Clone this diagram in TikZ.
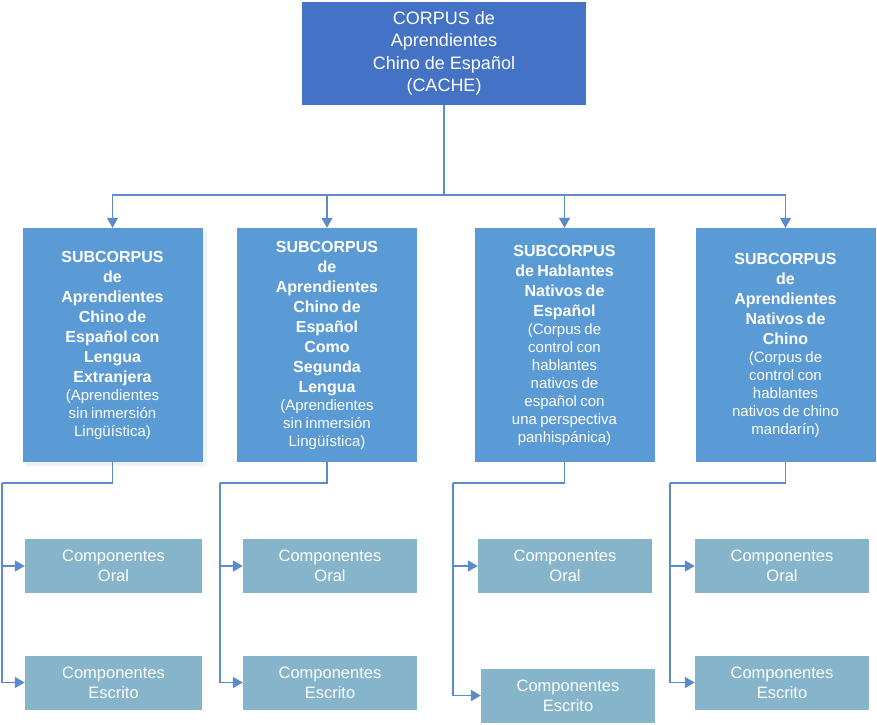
\documentclass[tikz,border=0pt]{standalone}
\usepackage{fontspec}
\setmainfont{Liberation Sans}
\usetikzlibrary{arrows.meta}
\definecolor{topblue}{HTML}{4472C4}
\definecolor{subblue}{HTML}{5B9BD5}
\definecolor{compblue}{HTML}{86B4CA}
\definecolor{linkblue}{HTML}{5B8CC8}
\definecolor{shadowblue}{HTML}{EEF3FA}
\begin{document}
\begin{tikzpicture}[x=1pt,y=-1pt,
  topbox/.style={fill=topblue,text=white,minimum width=284pt,minimum height=103pt,inner sep=0pt,align=center,font=\fontsize{18}{22.5}\selectfont},
  subbox/.style={fill=subblue,text=white,minimum width=180pt,minimum height=234pt,inner sep=0pt,text width=176pt,align=center},
  compbox/.style={fill=compblue,text=white,minimum width=174pt,minimum height=54pt,inner sep=0pt,align=center,font=\fontsize{16.5}{20}\selectfont},
  link/.style={draw=linkblue,line width=1.6pt},
  arr/.style={link,-{Triangle[length=10pt,width=11pt]}},
]
\useasboundingbox (0,0) rectangle (877,724);
\fill[shadowblue] (25,231) rectangle (207,466);
\node[topbox] (top) at (444,53.5) {CORPUS de\\Aprendientes\\Chino de Español\\(CACHE)};
\newcommand{\bld}{\fontsize{16}{20}\selectfont\bfseries}
\newcommand{\rgl}{\fontsize{15}{18}\selectfont\mdseries}
\node[subbox] (s1) at (112.5,345) {\bld SUBCORPUS\\de\\Aprendientes\\Chino de\\Español con\\Lengua\\Extranjera\par\rgl (Aprendientes\\sin inmersión\\Lingüística)\par};
\node[subbox] (s2) at (327,345) {\bld SUBCORPUS\\de\\Aprendientes\\Chino de\\Español\\Como\\Segunda\\Lengua\par\rgl (Aprendientes\\sin inmersión\\Lingüística)\par};
\node[subbox] (s3) at (564.5,345) {\bld SUBCORPUS\\de Hablantes\\Nativos de\\Español\par\rgl (Corpus de\\control con\\hablantes\\nativos de\\español con\\una perspectiva\\panhispánica)\par};
\node[subbox] (s4) at (785.5,345) {\bld SUBCORPUS\\de\\Aprendientes\\Nativos de\\Chino\par\rgl (Corpus de\\control con\\hablantes\\nativos de chino\\mandarín)\par};
\node[compbox,minimum width=177pt] (o1) at (113.5,566) {Componentes\\Oral};
\node[compbox,minimum width=177pt] (e1) at (113.5,682.5) {Componentes\\Escrito};
\node[compbox] (o2) at (330,566) {Componentes\\Oral};
\node[compbox] (e2) at (330,682.5) {Componentes\\Escrito};
\node[compbox] (o3) at (565,566) {Componentes\\Oral};
\node[compbox] (e3) at (568,695.5) {Componentes\\Escrito};
\node[compbox] (o4) at (782,566) {Componentes\\Oral};
\node[compbox] (e4) at (782,682.5) {Componentes\\Escrito};
% top connectors
\coordinate (bus) at (444,195);
\draw[link] (top.south) -- (bus);
\foreach \s in {s1,s2,s3,s4}{
  \draw[arr] (bus) -| (\s.north);
}
% sub connectors
\coordinate (t1) at (2,483);
\coordinate (t2) at (220,483);
\coordinate (t3) at (453,483);
\coordinate (t4) at (670,483);
\foreach \i in {1,2,3,4}{
  \draw[link] (s\i.south) |- (t\i);
  \draw[arr] (t\i) |- (o\i.west);
  \draw[arr] (t\i) |- (e\i.west);
}
\end{tikzpicture}
\end{document}
